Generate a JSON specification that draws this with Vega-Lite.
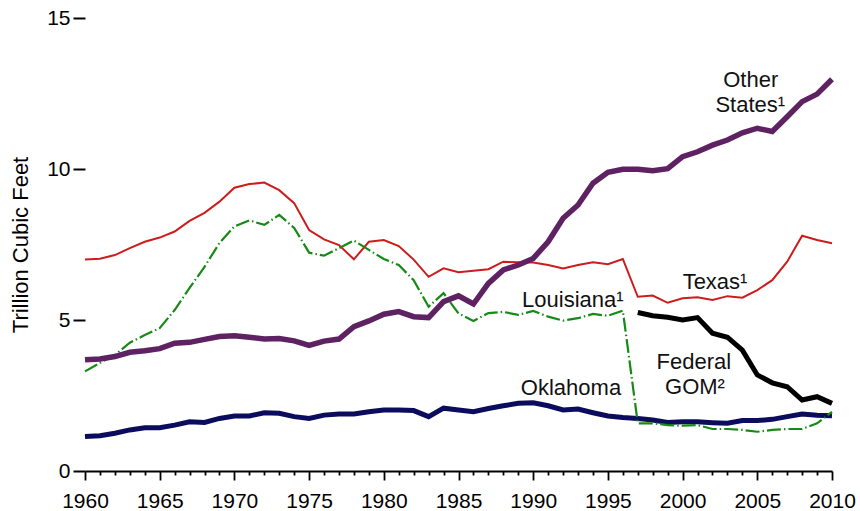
{
  "$schema": "https://vega.github.io/schema/vega-lite/v6.json",
  "autosize": {"type": "none"},
  "width": 747,
  "height": 453,
  "padding": {"left": 85, "top": 18, "right": 28, "bottom": 40},
  "background": "white",
  "config": {
    "view": {"stroke": null},
    "font": "Liberation Sans",
    "axis": {"labelFont": "Liberation Sans", "titleFont": "Liberation Sans", "labelColor": "#000", "titleColor": "#000", "tickColor": "#000", "domainColor": "#000", "grid": false}
  },
  "datasets": {
    "texas": [
      {"year":1960,"value":7.0},{"year":1961,"value":7.03},{"year":1962,"value":7.15},{"year":1963,"value":7.38},{"year":1964,"value":7.59},{"year":1965,"value":7.73},{"year":1966,"value":7.93},{"year":1967,"value":8.28},{"year":1968,"value":8.55},{"year":1969,"value":8.92},{"year":1970,"value":9.38},{"year":1971,"value":9.5},{"year":1972,"value":9.55},{"year":1973,"value":9.3},{"year":1974,"value":8.87},{"year":1975,"value":7.98},{"year":1976,"value":7.67},{"year":1977,"value":7.48},{"year":1978,"value":7.01},{"year":1979,"value":7.59},{"year":1980,"value":7.65},{"year":1981,"value":7.45},{"year":1982,"value":7.0},{"year":1983,"value":6.43},{"year":1984,"value":6.71},{"year":1985,"value":6.58},{"year":1986,"value":6.63},{"year":1987,"value":6.68},{"year":1988,"value":6.93},{"year":1989,"value":6.91},{"year":1990,"value":6.9},{"year":1991,"value":6.82},{"year":1992,"value":6.71},{"year":1993,"value":6.82},{"year":1994,"value":6.91},{"year":1995,"value":6.85},{"year":1996,"value":7.02},{"year":1997,"value":5.77},{"year":1998,"value":5.81},{"year":1999,"value":5.57},{"year":2000,"value":5.72},{"year":2001,"value":5.75},{"year":2002,"value":5.66},{"year":2003,"value":5.79},{"year":2004,"value":5.74},{"year":2005,"value":5.99},{"year":2006,"value":6.32},{"year":2007,"value":6.93},{"year":2008,"value":7.79},{"year":2009,"value":7.65},{"year":2010,"value":7.54}
    ],
    "louisiana": [
      {"year":1960,"value":3.3},{"year":1961,"value":3.58},{"year":1962,"value":3.84},{"year":1963,"value":4.25},{"year":1964,"value":4.5},{"year":1965,"value":4.73},{"year":1966,"value":5.33},{"year":1967,"value":6.06},{"year":1968,"value":6.76},{"year":1969,"value":7.55},{"year":1970,"value":8.1},{"year":1971,"value":8.3},{"year":1972,"value":8.15},{"year":1973,"value":8.48},{"year":1974,"value":8.05},{"year":1975,"value":7.23},{"year":1976,"value":7.13},{"year":1977,"value":7.38},{"year":1978,"value":7.63},{"year":1979,"value":7.32},{"year":1980,"value":7.02},{"year":1981,"value":6.82},{"year":1982,"value":6.32},{"year":1983,"value":5.44},{"year":1984,"value":5.89},{"year":1985,"value":5.22},{"year":1986,"value":4.97},{"year":1987,"value":5.23},{"year":1988,"value":5.27},{"year":1989,"value":5.17},{"year":1990,"value":5.3},{"year":1991,"value":5.11},{"year":1992,"value":4.98},{"year":1993,"value":5.06},{"year":1994,"value":5.2},{"year":1995,"value":5.14},{"year":1996,"value":5.31},{"year":1997,"value":1.58},{"year":1998,"value":1.58},{"year":1999,"value":1.52},{"year":2000,"value":1.5},{"year":2001,"value":1.52},{"year":2002,"value":1.39},{"year":2003,"value":1.39},{"year":2004,"value":1.36},{"year":2005,"value":1.3},{"year":2006,"value":1.36},{"year":2007,"value":1.39},{"year":2008,"value":1.39},{"year":2009,"value":1.58},{"year":2010,"value":1.96}
    ],
    "oklahoma": [
      {"year":1960,"value":1.14},{"year":1961,"value":1.17},{"year":1962,"value":1.25},{"year":1963,"value":1.36},{"year":1964,"value":1.43},{"year":1965,"value":1.43},{"year":1966,"value":1.52},{"year":1967,"value":1.63},{"year":1968,"value":1.61},{"year":1969,"value":1.74},{"year":1970,"value":1.82},{"year":1971,"value":1.82},{"year":1972,"value":1.93},{"year":1973,"value":1.91},{"year":1974,"value":1.8},{"year":1975,"value":1.74},{"year":1976,"value":1.85},{"year":1977,"value":1.89},{"year":1978,"value":1.89},{"year":1979,"value":1.96},{"year":1980,"value":2.02},{"year":1981,"value":2.02},{"year":1982,"value":2.0},{"year":1983,"value":1.8},{"year":1984,"value":2.08},{"year":1985,"value":2.02},{"year":1986,"value":1.96},{"year":1987,"value":2.07},{"year":1988,"value":2.16},{"year":1989,"value":2.24},{"year":1990,"value":2.26},{"year":1991,"value":2.16},{"year":1992,"value":2.02},{"year":1993,"value":2.05},{"year":1994,"value":1.93},{"year":1995,"value":1.82},{"year":1996,"value":1.77},{"year":1997,"value":1.74},{"year":1998,"value":1.69},{"year":1999,"value":1.61},{"year":2000,"value":1.63},{"year":2001,"value":1.63},{"year":2002,"value":1.6},{"year":2003,"value":1.58},{"year":2004,"value":1.67},{"year":2005,"value":1.67},{"year":2006,"value":1.71},{"year":2007,"value":1.8},{"year":2008,"value":1.89},{"year":2009,"value":1.85},{"year":2010,"value":1.83}
    ],
    "other": [
      {"year":1960,"value":3.68},{"year":1961,"value":3.71},{"year":1962,"value":3.79},{"year":1963,"value":3.93},{"year":1964,"value":3.98},{"year":1965,"value":4.05},{"year":1966,"value":4.23},{"year":1967,"value":4.26},{"year":1968,"value":4.36},{"year":1969,"value":4.45},{"year":1970,"value":4.48},{"year":1971,"value":4.43},{"year":1972,"value":4.37},{"year":1973,"value":4.39},{"year":1974,"value":4.31},{"year":1975,"value":4.16},{"year":1976,"value":4.3},{"year":1977,"value":4.37},{"year":1978,"value":4.78},{"year":1979,"value":4.97},{"year":1980,"value":5.19},{"year":1981,"value":5.28},{"year":1982,"value":5.11},{"year":1983,"value":5.08},{"year":1984,"value":5.61},{"year":1985,"value":5.8},{"year":1986,"value":5.53},{"year":1987,"value":6.21},{"year":1988,"value":6.66},{"year":1989,"value":6.82},{"year":1990,"value":7.04},{"year":1991,"value":7.59},{"year":1992,"value":8.37},{"year":1993,"value":8.81},{"year":1994,"value":9.53},{"year":1995,"value":9.89},{"year":1996,"value":9.99},{"year":1997,"value":9.99},{"year":1998,"value":9.94},{"year":1999,"value":10.01},{"year":2000,"value":10.41},{"year":2001,"value":10.57},{"year":2002,"value":10.79},{"year":2003,"value":10.96},{"year":2004,"value":11.2},{"year":2005,"value":11.35},{"year":2006,"value":11.24},{"year":2007,"value":11.73},{"year":2008,"value":12.23},{"year":2009,"value":12.48},{"year":2010,"value":12.97}
    ],
    "federal": [
      {"year":1997,"value":5.25},{"year":1998,"value":5.14},{"year":1999,"value":5.09},{"year":2000,"value":5.0},{"year":2001,"value":5.08},{"year":2002,"value":4.56},{"year":2003,"value":4.43},{"year":2004,"value":4.0},{"year":2005,"value":3.18},{"year":2006,"value":2.92},{"year":2007,"value":2.79},{"year":2008,"value":2.35},{"year":2009,"value":2.46},{"year":2010,"value":2.24}
    ],
    "labels": [
      {"year":2004.56,"value":12.95,"text":"Other"},
      {"year":2004.53,"value":12.12,"text":"States¹"},
      {"year":2002.17,"value":6.25,"text":"Texas¹"},
      {"year":1992.65,"value":5.66,"text":"Louisiana¹"},
      {"year":1992.53,"value":2.74,"text":"Oklahoma"},
      {"year":2000.75,"value":3.62,"text":"Federal"},
      {"year":2000.83,"value":2.79,"text":"GOM²"}
    ]
  },
  "encoding": {
    "x": {
      "field": "year", "type": "quantitative",
      "scale": {"domain": [1960, 2010], "nice": false, "zero": false},
      "axis": {
        "title": null,
        "values": [1960,1961,1962,1963,1964,1965,1966,1967,1968,1969,1970,1971,1972,1973,1974,1975,1976,1977,1978,1979,1980,1981,1982,1983,1984,1985,1986,1987,1988,1989,1990,1991,1992,1993,1994,1995,1996,1997,1998,1999,2000,2001,2002,2003,2004,2005,2006,2007,2008,2009,2010],
        "labelExpr": "datum.value % 5 === 0 ? toString(datum.value) : ''",
        "tickSize": {"condition": {"test": "datum.value % 5 === 0", "value": 9}, "value": 4},
        "tickWidth": 1.8,
        "domainWidth": 1.8,
        "labelFontSize": 21,
        "labelPadding": 10,
        "labelFlush": false,
        "labelOverlap": false
      }
    },
    "y": {
      "field": "value", "type": "quantitative",
      "scale": {"domain": [0, 15], "nice": false},
      "axis": {
        "title": "Trillion Cubic Feet",
        "titleFontSize": 22,
        "titleFontWeight": "normal",
        "titlePadding": 14,
        "values": [0, 5, 10, 15],
        "domain": false,
        "tickSize": 12,
        "tickWidth": 2,
        "labelFontSize": 21,
        "labelPadding": 3
      }
    }
  },
  "layer": [
    {"data": {"name": "texas"}, "mark": {"type": "line", "color": "#cc1c1c", "strokeWidth": 2}},
    {"data": {"name": "oklahoma"}, "mark": {"type": "line", "color": "#0c0c5e", "strokeWidth": 5}},
    {"data": {"name": "louisiana"}, "mark": {"type": "line", "color": "#158a15", "strokeWidth": 2.2, "strokeDash": [14, 3, 1.5, 3]}},
    {"data": {"name": "other"}, "mark": {"type": "line", "color": "#5e2263", "strokeWidth": 5.5}},
    {"data": {"name": "federal"}, "mark": {"type": "line", "color": "#000000", "strokeWidth": 5}},
    {"data": {"name": "labels"}, "mark": {"type": "text", "fontSize": 22, "align": "center", "baseline": "middle", "color": "#111"}, "encoding": {"text": {"field": "text"}}}
  ]
}
